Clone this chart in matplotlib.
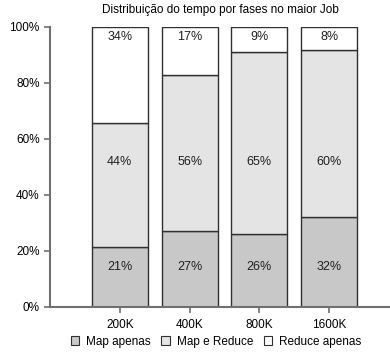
import matplotlib.pyplot as plt
from matplotlib.patches import Patch

plt.rcParams["font.family"] = ["Liberation Sans", "DejaVu Sans"]

# dados (% do tempo total)
categories = ["200K", "400K", "800K", "1600K"]
map_only = [21.4, 27.1, 26.0, 31.9]
map_reduce = [44.3, 55.7, 65.1, 59.8]
reduce_only = [34.3, 17.2, 8.9, 8.3]
series_names = ["Map apenas", "Map e Reduce", "Reduce apenas"]
yticks = [0, 20, 40, 60, 80, 100]

colors = ["#c8c8c8", "#e4e4e4", "#ffffff"]
edge = "#303030"
axis_col = "#707070"

fig = plt.figure(figsize=(3.9, 3.54), dpi=100)
ax = fig.add_axes([0.128, 0.134, 0.872, 0.7906])

x = list(range(len(categories)))
width = 0.8

bottom = [0.0] * len(x)
for vals, col in zip([map_only, map_reduce, reduce_only], colors):
    ax.bar(x, vals, width, bottom=bottom, color=col, edgecolor=edge, linewidth=1.0)
    bottom = [b + v for b, v in zip(bottom, vals)]

# rótulos em posições fixas, como no original
label_y = [14, 51.5, 96.3]
for vals, ly in zip([map_only, map_reduce, reduce_only], label_y):
    for xi, v in zip(x, vals):
        ax.text(xi, ly, f"{round(v):.0f}%", ha="center", va="center", fontsize=9, color="#202020")

ax.set_xlim(-1, 3.87)
ax.set_ylim(0, 100)
ax.set_xticks(x)
ax.set_xticklabels(categories, fontsize=8.5)
ax.set_yticks(yticks)
ax.set_yticklabels([f"{t}%" for t in yticks], fontsize=8.5)

for s in ["top", "right"]:
    ax.spines[s].set_visible(False)
for s in ["left", "bottom"]:
    ax.spines[s].set_color(axis_col)
    ax.spines[s].set_linewidth(1.5)
ax.tick_params(axis="both", colors=axis_col, labelcolor="#000000", length=4, width=1.2)
ax.tick_params(axis="x", pad=5)

ax.set_title("Distribuição do tempo por fases no maior Job", fontsize=8.5, pad=10)

handles = [Patch(facecolor=c, edgecolor=edge, linewidth=0.8) for c in colors]
fig.legend(handles, series_names, loc="lower center", bbox_to_anchor=(0.554, -0.012),
           ncol=3, frameon=False, fontsize=8.5, handlelength=0.7, handleheight=0.7,
           handletextpad=0.6, columnspacing=0.9)

plt.savefig("out.png", dpi=100)
